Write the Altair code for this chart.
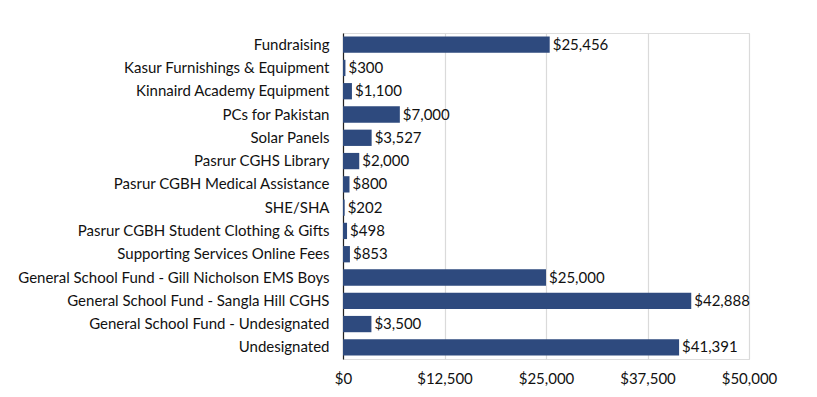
import altair as alt
import pandas as pd

categories = [
    "Fundraising",
    "Kasur Furnishings & Equipment",
    "Kinnaird Academy Equipment",
    "PCs for Pakistan",
    "Solar Panels",
    "Pasrur CGHS Library",
    "Pasrur CGBH Medical Assistance",
    "SHE/SHA",
    "Pasrur CGBH Student Clothing & Gifts",
    "Supporting Services Online Fees",
    "General School Fund - Gill Nicholson EMS Boys",
    "General School Fund - Sangla Hill CGHS",
    "General School Fund - Undesignated",
    "Undesignated",
]
values = [25456, 300, 1100, 7000, 3527, 2000, 800, 202, 498, 853, 25000, 42888, 3500, 41391]
x_ticks = [0, 12500, 25000, 37500, 50000]

df = pd.DataFrame({"category": categories, "value": values})

FONT = "Lato"
FS = 15
BAR = "#2E4A7E"

y = alt.Y("category:N", sort=categories, title=None,
          scale=alt.Scale(paddingInner=0.3, paddingOuter=0.15),
          axis=alt.Axis(labelFontSize=FS, labelFont=FONT, labelColor="#111111",
                        labelPadding=14, labelLimit=0, ticks=False, domain=True,
                        domainColor="#222222", domainWidth=1.2, grid=False))
x = alt.X("value:Q", title=None,
          scale=alt.Scale(domain=[0, 50000], nice=False),
          axis=alt.Axis(values=x_ticks, format="$,.0f", labelFontSize=FS, labelFont=FONT,
                        labelColor="#111111", labelPadding=12, labelFlush=False,
                        ticks=False, domain=False,
                        grid=True, gridColor="#DADADA", gridWidth=1.2))

bars = alt.Chart(df).mark_bar(color=BAR).encode(x=x, y=y)
labels = alt.Chart(df).mark_text(align="left", baseline="middle", dx=3, fontSize=FS,
                                 font=FONT, color="#111111").encode(
    x="value:Q", y=alt.Y("category:N", sort=categories),
    text=alt.Text("value:Q", format="$,.0f"))

chart = (bars + labels).properties(
    width=406, height=326,
    autosize=alt.AutoSizeParams(type="none"),
    padding={"left": 335, "top": 25, "right": 60, "bottom": 40},
).configure_view(stroke=None).configure(background="white")

chart.save("out.html", embed_options={"renderer": "svg", "actions": False})
